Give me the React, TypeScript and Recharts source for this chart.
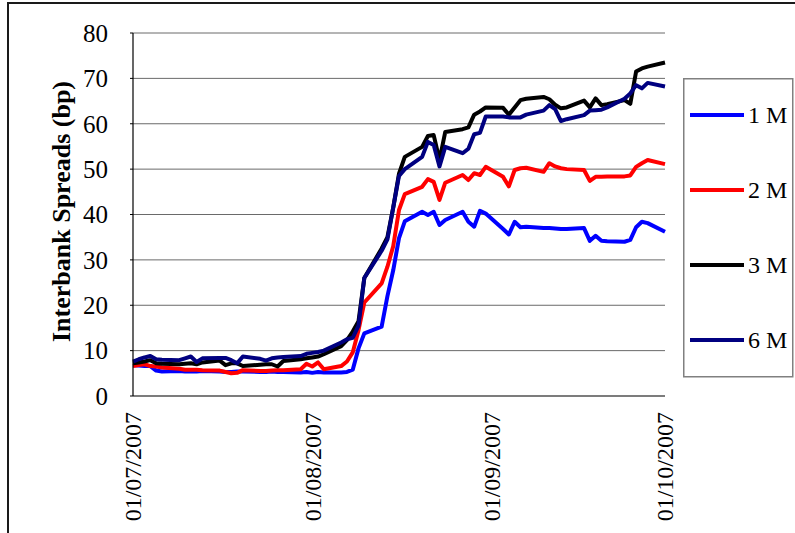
import React from "react";
import { LineChart, Line, XAxis, YAxis, CartesianGrid, Legend } from "recharts";

// Day offsets from 01/07/2007 (business days)
const days = [0, 1, 2, 3, 4, 5, 8, 9, 10, 11, 12, 15, 16, 17, 18, 19, 22, 23, 24, 25, 26, 29, 30,
  31, 32, 33, 36, 37, 38, 39, 40, 43, 44, 45, 46, 47, 50, 51, 52, 53, 54, 57, 58, 59, 60, 61,
  64, 65, 66, 67, 68, 71, 72, 73, 74, 75, 78, 79, 80, 81, 82, 85, 86, 87, 88, 89, 92];

const m1 = [6.8, 6.7, 6.6, 6.6, 5.6, 5.4, 5.5, 5.4, 5.4, 5.4, 5.5, 5.4, 5.3, 5.3, 5.4, 5.4, 5.3, 5.3, 5.4, 5.3, 5.3, 5.2, 5.3,
  5.1, 5.3, 5.2, 5.2, 5.3, 5.8, 10.5, 13.8, 15.3, 22.0, 27.7, 34.8, 38.5, 40.6, 39.9, 40.6, 37.7, 38.8, 40.6, 38.4, 37.3, 40.8, 40.2,
  36.8, 35.6, 38.4, 37.2, 37.3, 37.0, 37.0, 36.9, 36.8, 36.8, 37.0, 34.2, 35.3, 34.2, 34.1, 34.0, 34.4, 37.2, 38.4, 38.1, 36.2];

const m2 = [6.6, 6.8, 7.0, 6.6, 6.5, 6.3, 6.0, 5.8, 5.8, 5.8, 5.7, 5.6, 5.3, 5.0, 5.1, 5.7, 5.5, 5.5, 5.6, 5.7, 5.7, 5.9, 7.1,
  6.5, 7.4, 5.9, 6.6, 7.6, 9.6, 14.5, 20.6, 24.8, 28.5, 33.0, 41.0, 44.5, 46.1, 47.8, 47.2, 43.2, 47.0, 48.7, 47.6, 49.1, 48.7, 50.5,
  48.3, 46.2, 49.8, 50.2, 50.3, 49.4, 51.3, 50.6, 50.2, 50.0, 49.8, 47.4, 48.3, 48.3, 48.4, 48.4, 48.6, 50.5, 51.3, 52.0, 51.1];

const m3 = [7.2, 7.4, 7.6, 7.9, 7.2, 7.1, 7.0, 7.1, 7.2, 7.0, 7.4, 7.8, 6.8, 7.2, 7.2, 6.6, 6.9, 7.0, 7.0, 6.5, 7.7, 8.1, 8.3,
  8.5, 8.7, 9.2, 11.0, 12.3, 14.2, 16.5, 26.0, 32.5, 35.0, 41.5, 49.0, 52.7, 54.9, 57.3, 57.5, 52.0, 58.2, 58.8, 59.2, 62.0, 62.7, 63.6,
  63.5, 62.0, 63.6, 65.2, 65.5, 65.9, 65.4, 64.2, 63.4, 63.6, 65.1, 63.6, 65.6, 64.1, 64.3, 65.2, 64.4, 71.5, 72.2, 72.6, 73.5];

const m6 = [7.6, 8.1, 8.5, 8.8, 8.1, 8.0, 7.9, 8.3, 8.7, 7.5, 8.3, 8.4, 8.4, 7.9, 7.2, 8.7, 8.2, 7.8, 8.3, 8.5, 8.6, 8.8, 9.3,
  9.5, 9.7, 10.0, 11.8, 12.5, 12.8, 15.5, 26.0, 32.0, 34.5, 41.5, 48.5, 50.0, 52.7, 56.0, 55.3, 50.6, 54.9, 53.5, 54.5, 57.7, 58.0, 61.6,
  61.6, 61.4, 61.4, 61.4, 62.0, 62.9, 64.1, 63.2, 60.6, 61.0, 61.9, 62.9, 63.0, 63.1, 63.6, 65.5, 66.7, 68.5, 67.8, 69.0, 68.2];

const xTickDays = [0, 31, 62, 92];
const xTickLabels = ["01/07/2007", "01/08/2007", "01/09/2007", "01/10/2007"];
const yTicks = [0, 10, 20, 30, 40, 50, 60, 70, 80];

const seriesKeys = ["m1", "m2", "m3", "m6"];
const seriesNames = ["1 M", "2 M", "3 M", "6 M"];
const seriesColors = ["#0000FF", "#FF0000", "#000000", "#000080"];

const data = days.map((d, i) => ({ day: d, m1: m1[i], m2: m2[i], m3: m3[i], m6: m6[i] }));

const FONT = "'Liberation Serif', 'Times New Roman', serif";

const XTick = (props: any) => {
  const { x, y, payload } = props;
  const idx = xTickDays.indexOf(payload.value);
  return (
    <text x={x} y={y} transform={`rotate(-90, ${x}, ${y})`} textAnchor="end" dy="0.35em"
      fontFamily={FONT} fontSize={24} fill="#000">
      {idx >= 0 ? xTickLabels[idx] : ""}
    </text>
  );
};

const YTick = (props: any) => {
  const { x, y, payload } = props;
  return (
    <text x={x} y={y} textAnchor="end" dy="0.35em" fontFamily={FONT} fontSize={25} fill="#000">
      {payload.value}
    </text>
  );
};

const YTitle = (props: any) => {
  const vb = props.viewBox || {};
  const cx = vb.x + 18;
  const cy = vb.y + vb.height / 2 - 3;
  return (
    <text x={cx} y={cy} transform={`rotate(-90, ${cx}, ${cy})`} textAnchor="middle" dy="0.35em"
      fontFamily={FONT} fontSize={26} fontWeight="bold" fill="#000">
      Interbank Spreads (bp)
    </text>
  );
};

const LegendBox = (props: any) => {
  const payload = props.payload || [];
  const items = seriesNames.map((n) => payload.find((p: any) => p.value === n)).filter(Boolean);
  return (
    <svg width={111} height={300} style={{ display: "block" }}>
      <rect x={0.75} y={0.75} width={109} height={298} fill="#fff" stroke="#808080" strokeWidth={1.5} />
      {items.map((p: any, i: number) => (
        <g key={p.value}>
          <line x1={7} x2={61} y1={37 + i * 75} y2={37 + i * 75} stroke={p.color} strokeWidth={4} />
          <text x={65} y={37 + i * 75} dy="0.35em" fontFamily={FONT} fontSize={24} fill="#000">
            {p.value}
          </text>
        </g>
      ))}
    </svg>
  );
};

export default function App() {
  return (
    <div style={{ position: "absolute", left: 0, top: 0, width: 795, height: 533, background: "#fff", overflow: "hidden" }}>
      <div style={{ position: "absolute", left: 7, top: 2, width: 800, height: 560, border: "2px solid #1a1a1a" }} />
      <div style={{ position: "absolute", left: 0, top: 0 }}>
        <LineChart width={795} height={533} data={data} margin={{ top: 33, right: 130, bottom: 7, left: 43 }}>
          <CartesianGrid vertical={false} stroke="#6a6a6a" strokeWidth={1} />
          <XAxis
            type="number"
            dataKey="day"
            domain={[0, 92]}
            ticks={xTickDays}
            height={130}
            tickSize={0}
            tickMargin={16}
            tickLine={false}
            axisLine={{ stroke: "#6a6a6a", strokeWidth: 1.5 }}
            tick={<XTick />}
            interval={0}
          />
          <YAxis
            type="number"
            domain={[0, 80]}
            ticks={yTicks}
            width={90}
            tickSize={3}
            tickMargin={22}
            tickLine={{ stroke: "#000" }}
            axisLine={{ stroke: "#000", strokeWidth: 1.2 }}
            tick={<YTick />}
            interval={0}
            label={<YTitle />}
          />
          <Legend
            layout="horizontal"
            verticalAlign="middle"
            align="center"
            content={<LegendBox />}
            wrapperStyle={{ left: 683, top: 78, width: 111, height: 300 }}
          />
          {seriesKeys.map((k, i) => (
            <Line
              key={k}
              type="linear"
              dataKey={k}
              name={seriesNames[i]}
              stroke={seriesColors[i]}
              strokeWidth={4}
              dot={false}
              activeDot={false}
              strokeLinejoin="round"
              isAnimationActive={false}
            />
          ))}
        </LineChart>
      </div>
    </div>
  );
}
